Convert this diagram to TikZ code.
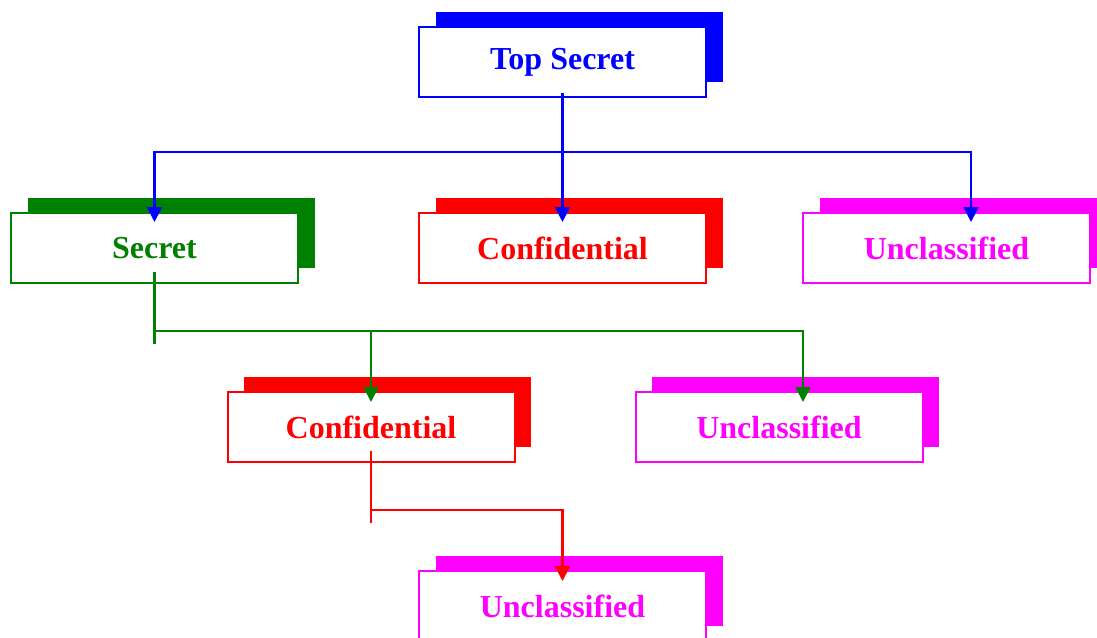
\documentclass[tikz,border=0pt]{standalone}
\usepackage{fontspec}
\setmainfont{Liberation Serif}
\usetikzlibrary{arrows.meta,shadows}
\definecolor{LvlBlue}{HTML}{0000FF}
\definecolor{LvlGreen}{HTML}{008000}
\definecolor{LvlRed}{HTML}{FF0000}
\definecolor{LvlMagenta}{HTML}{FF00FF}

\begin{document}
\begin{tikzpicture}[x=1pt,y=-1pt,
      lvl/.style={draw=#1,text=#1,fill=white,line width=2pt,inner sep=0pt,
                  minimum width=287pt,minimum height=70pt,
                  font=\bfseries\fontsize{32}{38}\selectfont,
                  general shadow={fill=#1,shadow xshift=16.5pt,shadow yshift=15pt}},
      wire/.style={#1,line width=2.2pt},
      go/.style={-{Triangle[length=15pt,width=15pt]},#1,line width=2.2pt}]
    \useasboundingbox (0,0) rectangle (1097,637);
    \node[lvl=LvlBlue]    (top)    at (562.5,62)  {Top Secret};
    \node[lvl=LvlGreen]   (secret) at (154.5,248) {Secret};
    \node[lvl=LvlRed]     (conf)   at (562.5,248) {Confidential};
    \node[lvl=LvlMagenta] (uncl)   at (946.5,248) {Unclassified};
    \node[lvl=LvlRed]     (confb)  at (371,427)   {Confidential};
    \node[lvl=LvlMagenta] (unclb)  at (779,427)   {Unclassified};
    \node[lvl=LvlMagenta] (unclc)  at (562.5,606) {Unclassified};
    % top secret branches
    \coordinate (bbus) at (562.5,152);
    \draw[wire=LvlBlue] ([yshift=5pt]top.south) -- (bbus);
    \draw[go=LvlBlue] (bbus) -| ([yshift=-10pt]secret.north);
    \draw[go=LvlBlue] (bbus) -- ([yshift=-10pt]conf.north);
    \draw[go=LvlBlue] (bbus) -| ([xshift=24.5pt,yshift=-10pt]uncl.north);
    % secret branches
    \coordinate (gbus) at (154.5,331);
    \coordinate (gend) at (154.5,344);
    \draw[wire=LvlGreen] ([yshift=12pt]secret.south) -- (gend);
    \draw[go=LvlGreen] (gbus) -| ([yshift=-11pt]confb.north);
    \draw[go=LvlGreen] (gbus) -| ([xshift=24pt,yshift=-11pt]unclb.north);
    % confidential branch
    \coordinate (rbus) at (371,510);
    \coordinate (rend) at (371,523);
    \draw[wire=LvlRed] ([yshift=12pt]confb.south) -- (rend);
    \draw[go=LvlRed] (rbus) -| ([yshift=-11pt]unclc.north);
  \end{tikzpicture}
\end{document}
